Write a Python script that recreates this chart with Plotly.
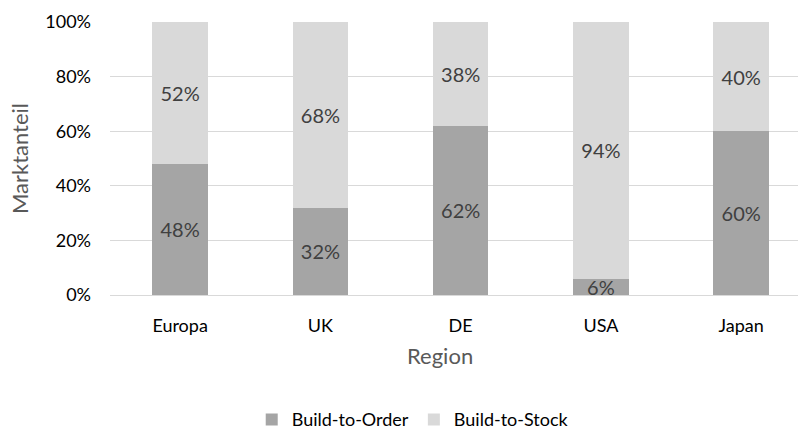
import plotly.graph_objects as go

regions = ["Europa", "UK", "DE", "USA", "Japan"]
build_to_order = [48, 32, 62, 6, 60]
build_to_stock = [52, 68, 38, 94, 40]

FONT = "Lato, 'Open Sans', sans-serif"

fig = go.Figure()
fig.add_trace(go.Bar(
    x=regions, y=build_to_order, name="Build-to-Order",
    marker=dict(color="#a5a5a5", line=dict(width=0)),
    text=[f"{v}%" for v in build_to_order], textposition="inside",
    insidetextanchor="middle",
    textfont=dict(size=20, color="#404040", family=FONT),
))
fig.add_trace(go.Bar(
    x=regions, y=build_to_stock, name="Build-to-Stock",
    marker=dict(color="#d9d9d9", line=dict(width=0)),
    text=[f"{v}%" for v in build_to_stock], textposition="inside",
    insidetextanchor="middle",
    textfont=dict(size=20, color="#404040", family=FONT),
))

fig.update_layout(
    barmode="stack",
    bargap=0.605,
    width=798, height=429,
    margin=dict(l=110, r=0, t=22, b=134, autoexpand=False),
    paper_bgcolor="white", plot_bgcolor="white",
    font=dict(family=FONT, color="#000000", size=18),
    uniformtext=dict(minsize=20, mode="show"),
    showlegend=True,
    legend=dict(orientation="h", x=0.44, xanchor="center", y=-0.457, yanchor="middle",
                font=dict(size=18, color="#000000"), traceorder="normal",
                itemwidth=30),
    xaxis=dict(range=[-0.5, 4.405], showgrid=False, ticks="", showline=False,
               ticklabelstandoff=18,
               tickfont=dict(size=18, color="#000000")),
    yaxis=dict(range=[0, 100], tickvals=[0, 20, 40, 60, 80, 100],
               ticktext=["0%", "20%", "40%", "60%", "80%", "100%"],
               showgrid=True, gridcolor="#d9d9d9", gridwidth=1,
               zeroline=True, zerolinecolor="#d9d9d9", zerolinewidth=1,
               showline=False, ticks="", ticklabelstandoff=18,
               tickfont=dict(size=18, color="#000000"),
               title=dict(text="Marktanteil", font=dict(size=22, color="#595959"), standoff=10)),
    annotations=[dict(text="Region", xref="paper", yref="paper", x=0.48, y=-0.223,
                      xanchor="center", yanchor="middle", showarrow=False,
                      font=dict(size=22, color="#595959", family=FONT))],
)

fig.write_html("out.html")
